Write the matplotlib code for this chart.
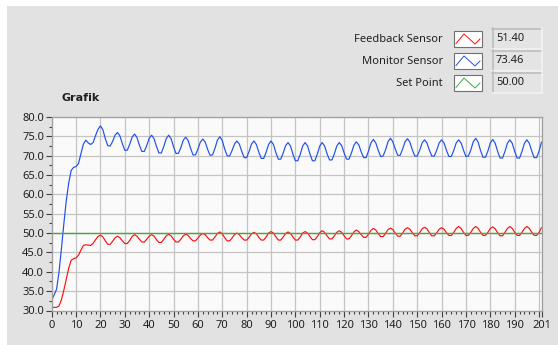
import numpy as np
import matplotlib
matplotlib.use("Agg")
import matplotlib.pyplot as plt
from matplotlib.patches import Rectangle
from matplotlib.lines import Line2D
from matplotlib.ticker import FixedLocator, MultipleLocator, FormatStrFormatter

plt.rcParams['font.family'] = ['Noto Sans', 'DejaVu Sans']

# time axis (samples 0..201)
time = list(range(202))

# Monitor Sensor (blue)
monitor = [32.7, 34.0, 35.5, 40.0, 46.0, 52.5, 58.5, 63.0, 66.2, 67.0,
           67.2, 68.0, 70.5, 73.0, 74.0, 73.3, 72.9, 73.4, 75.2, 76.8,
           77.7, 76.7, 74.4, 72.6, 72.5, 73.7, 75.3,
           76.0, 75.1, 73.1, 71.4, 71.4, 72.9, 74.8,
           75.6, 74.7, 72.7, 71.1, 71.1, 72.6, 74.5,
           75.3, 74.4, 72.4, 70.7, 70.7, 72.4, 74.4,
           75.3, 74.4, 72.3, 70.6, 70.6, 72.1, 74.0,
           74.8, 73.9, 71.9, 70.2, 70.2, 71.7, 73.5,
           74.3, 73.5, 71.6, 70.1, 70.2, 71.9, 74.0,
           74.9, 73.9, 71.7, 70.0, 69.9, 71.3, 73.0,
           73.8, 73.0, 71.1, 69.5, 69.5, 71.1, 73.0,
           73.8, 72.9, 70.9, 69.3, 69.3, 70.9, 72.9,
           73.8, 72.9, 70.8, 69.1, 69.1, 70.7, 72.6,
           73.4, 72.5, 70.4, 68.7, 68.7, 70.4, 72.5,
           73.4, 72.5, 70.4, 68.7, 68.7, 70.4, 72.5,
           73.4, 72.5, 70.5, 68.9, 68.9, 70.5, 72.5,
           73.4, 72.6, 70.7, 69.1, 69.1, 70.7, 72.7,
           73.6, 72.8, 71.0, 69.5, 69.5, 71.2, 73.3,
           74.2, 73.3, 71.4, 69.8, 69.9, 71.5, 73.6,
           74.5, 73.6, 71.7, 70.1, 70.1, 71.7, 73.6,
           74.4, 73.5, 71.5, 69.9, 69.9, 71.4, 73.3,
           74.1, 73.3, 71.4, 69.9, 69.9, 71.4, 73.3,
           74.1, 73.3, 71.4, 69.8, 69.8, 71.4, 73.3,
           74.1, 73.3, 71.4, 69.8, 69.9, 71.5, 73.6,
           74.5, 73.5, 71.3, 69.6, 69.6, 71.2, 73.3,
           74.2, 73.2, 71.1, 69.4, 69.4, 71.1, 73.2,
           74.1, 73.2, 71.1, 69.4, 69.4, 71.1, 73.2,
           74.1, 73.2, 71.2, 69.5, 69.5, 71.2, 73.5]

# Feedback Sensor (red)
feedback = [30.8, 30.8, 30.8, 31.2, 32.8, 35.3, 38.2, 41.0, 43.0, 43.4,
            43.6, 44.3, 45.6, 46.8, 47.0, 46.9, 46.8, 47.4, 48.3, 49.1,
            49.5, 49.0, 48.0, 47.1, 47.1, 47.9, 48.8,
            49.2, 48.8, 48.0, 47.3, 47.3, 48.1, 49.1,
            49.6, 49.2, 48.4, 47.7, 47.7, 48.4, 49.2,
            49.6, 49.2, 48.3, 47.6, 47.6, 48.4, 49.3,
            49.7, 49.3, 48.4, 47.7, 47.7, 48.4, 49.3,
            49.7, 49.4, 48.6, 48.0, 48.0, 48.7, 49.5,
            49.9, 49.6, 48.8, 48.2, 48.2, 49.0, 49.9,
            50.3, 49.8, 48.8, 48.0, 48.0, 48.7, 49.6,
            50.0, 49.6, 48.8, 48.2, 48.2, 48.9, 49.8,
            50.2, 49.8, 48.9, 48.2, 48.2, 49.0, 50.0,
            50.4, 50.0, 49.0, 48.2, 48.2, 49.0, 49.9,
            50.3, 49.9, 49.0, 48.2, 48.2, 49.0, 50.0,
            50.4, 50.0, 49.1, 48.3, 48.3, 49.1, 50.1,
            50.6, 50.2, 49.3, 48.5, 48.5, 49.3, 50.2,
            50.6, 50.2, 49.3, 48.5, 48.5, 49.3, 50.3,
            50.8, 50.4, 49.6, 48.9, 48.9, 49.7, 50.7,
            51.2, 50.8, 49.9, 49.1, 49.1, 49.9, 50.9,
            51.3, 50.9, 50.0, 49.2, 49.2, 50.0, 51.0,
            51.4, 51.0, 50.1, 49.3, 49.3, 50.1, 51.1,
            51.5, 51.1, 50.1, 49.3, 49.3, 50.1, 51.0,
            51.4, 51.0, 50.1, 49.4, 49.4, 50.2, 51.2,
            51.7, 51.2, 50.2, 49.4, 49.4, 50.2, 51.2,
            51.7, 51.2, 50.2, 49.4, 49.4, 50.2, 51.2,
            51.6, 51.1, 50.1, 49.3, 49.3, 50.2, 51.2,
            51.7, 51.2, 50.2, 49.4, 49.4, 50.2, 51.2,
            51.7, 51.2, 50.2, 49.4, 49.4, 50.2, 51.4]

set_point = [50.0] * len(time)

names = ['Feedback Sensor', 'Monitor Sensor', 'Set Point']
last_values = ['51.40', '73.46', '50.00']
colors = ['#ff1010', '#1f50ea', '#43a843']

W, H = 558, 345
fig = plt.figure(figsize=(W / 100, H / 100), dpi=100, facecolor='white')


def fx(px):
    return px / W


def fy(py):
    return 1 - py / H


def hline(x0, x1, y, color, lw=1.0):
    fig.lines.append(Line2D([fx(x0), fx(x1)], [fy(y), fy(y)], transform=fig.transFigure,
                            color=color, lw=lw))


def vline(x, y0, y1, color, lw=1.0):
    fig.lines.append(Line2D([fx(x), fx(x)], [fy(y0), fy(y1)], transform=fig.transFigure,
                            color=color, lw=lw))


# grey panel behind everything
fig.patches.append(Rectangle((fx(7), 0), 1, fy(6), transform=fig.transFigure,
                             facecolor='#e2e2e2', edgecolor='none', zorder=-10))

ax = fig.add_axes([fx(51.7), fy(310.5), fx(541.5) - fx(51.7), fy(117) - fy(310.5)])
ax.set_zorder(5)
ax.set_facecolor('#fafafa')

ax.plot(time, feedback, color=colors[0], lw=0.85)
ax.plot(time, monitor, color=colors[1], lw=0.85)
ax.plot(time, set_point, color=colors[2], lw=1.0)

ax.set_xlim(0, 201)
ax.set_ylim(30, 80)

xt = list(range(0, 201, 10)) + [201]
ax.xaxis.set_major_locator(FixedLocator(xt))
ax.set_xticklabels(['' if t == 200 else str(t) for t in xt])
ax.xaxis.set_minor_locator(MultipleLocator(2))
ax.yaxis.set_major_locator(MultipleLocator(5))
ax.yaxis.set_minor_locator(MultipleLocator(2.5))
ax.yaxis.set_major_formatter(FormatStrFormatter('%.1f'))

ax.grid(True, which='major', color='#c4c4c4', lw=0.9)
ax.set_axisbelow(True)
for s in ax.spines.values():
    s.set_color('#a0a0a0')
    s.set_linewidth(0.9)

ax.tick_params(axis='both', which='major', labelsize=8, colors='#404040',
               labelcolor='#202020', length=4, width=0.8, pad=1.5)
ax.tick_params(axis='x', which='major', pad=2.5)
ax.tick_params(axis='both', which='minor', colors='#404040', length=2, width=0.8)

fig.text(fx(62), fy(98), 'Grafik', fontsize=8, fontweight='bold', family='DejaVu Sans',
         color='#202020', va='center', ha='left')

# legend block
row_y = [39, 61, 83]
for name, val, col, yc in zip(names, last_values, colors, row_y):
    fig.text(fx(443), fy(yc), name, fontsize=8, color='#202020', ha='right', va='center')
    fig.patches.append(Rectangle((fx(454), fy(yc + 8)), fx(28), fy(0) - fy(16),
                                 transform=fig.transFigure, facecolor='white',
                                 edgecolor='#707070', lw=0.8))
    fig.lines.append(Line2D([fx(456), fx(464), fx(475), fx(480)],
                            [fy(yc + 4.5), fy(yc - 5), fy(yc + 5), fy(yc)],
                            transform=fig.transFigure, color=col, lw=0.7))
    # recessed value box
    top, bot = yc - 11, yc + 10
    fig.patches.append(Rectangle((fx(492), fy(bot)), fx(50), fy(top) - fy(bot),
                                 transform=fig.transFigure, facecolor='#e4e4e4',
                                 edgecolor='none'))
    hline(492, 542, top + 0.5, '#bdbdbd', 1.2)
    vline(492.5, top, bot, '#bdbdbd', 1.2)
    hline(492, 542, bot - 0.5, '#f2f2f2', 1.2)
    vline(541.5, top, bot, '#f2f2f2', 1.2)
    fig.text(fx(496), fy(yc - 0.5), val, fontsize=8, color='#202020', ha='left', va='center')

fig.savefig('out.png', dpi=100, facecolor=fig.get_facecolor())
